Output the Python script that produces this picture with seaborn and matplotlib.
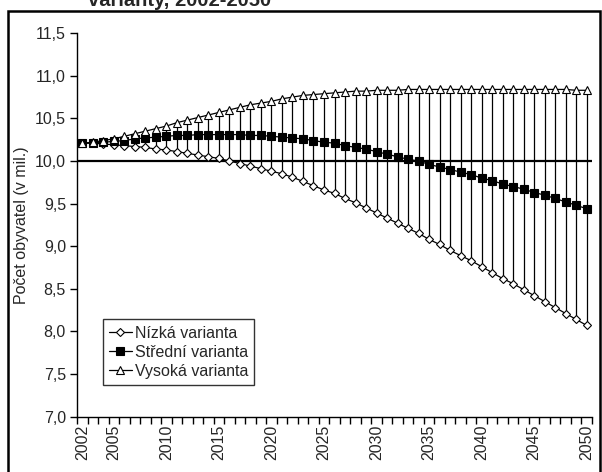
import matplotlib
matplotlib.use("Agg")
import matplotlib.pyplot as plt
import matplotlib.ticker as mticker
from matplotlib.patches import Rectangle
import pandas as pd
import seaborn as sns

# data (population in millions)
years = list(range(2002, 2051))
nizka = [10.21, 10.21, 10.20, 10.19, 10.18, 10.17, 10.16, 10.14, 10.13, 10.11,
         10.09, 10.07, 10.05, 10.03, 10.00, 9.97, 9.94, 9.91, 9.88, 9.85,
         9.81, 9.76, 9.71, 9.66, 9.62, 9.56, 9.51, 9.45, 9.39, 9.33,
         9.27, 9.21, 9.15, 9.08, 9.02, 8.95, 8.89, 8.83, 8.76, 8.69,
         8.62, 8.56, 8.49, 8.42, 8.35, 8.28, 8.21, 8.14, 8.07]
stredni = [10.21, 10.21, 10.22, 10.23, 10.24, 10.26, 10.27, 10.28, 10.29, 10.30,
           10.30, 10.31, 10.31, 10.31, 10.31, 10.31, 10.30, 10.30, 10.29, 10.28,
           10.27, 10.26, 10.24, 10.22, 10.21, 10.18, 10.16, 10.14, 10.11, 10.08,
           10.05, 10.02, 10.00, 9.96, 9.93, 9.90, 9.87, 9.84, 9.80, 9.77,
           9.73, 9.70, 9.67, 9.63, 9.60, 9.56, 9.52, 9.48, 9.44]
vysoka = [10.21, 10.22, 10.24, 10.26, 10.29, 10.32, 10.35, 10.38, 10.41, 10.45,
          10.48, 10.51, 10.54, 10.57, 10.60, 10.63, 10.66, 10.68, 10.70, 10.73,
          10.75, 10.77, 10.78, 10.79, 10.80, 10.81, 10.82, 10.82, 10.83, 10.83,
          10.83, 10.84, 10.84, 10.84, 10.84, 10.84, 10.84, 10.84, 10.84, 10.84,
          10.84, 10.84, 10.84, 10.84, 10.84, 10.84, 10.84, 10.83, 10.83]
labels = ["Nízká varianta", "Střední varianta", "Vysoká varianta"]
tick_years = [2002, 2005, 2010, 2015, 2020, 2025, 2030, 2035, 2040, 2045, 2050]

df = pd.DataFrame({"rok": years, labels[0]: nizka, labels[1]: stredni, labels[2]: vysoka})

sns.set_style("ticks")
plt.rcParams["font.family"] = ["Liberation Sans", "DejaVu Sans"]

fig = plt.figure(figsize=(6.02, 4.72), dpi=100)
ax = fig.add_axes([77 / 602, 1 - 416.6 / 472, 515 / 602, (416.6 - 33.2) / 472])

# high-low lines between the variants
ax.vlines(df["rok"], df[labels[0]], df[labels[2]], color="black", lw=0.9, zorder=1)
ax.axhline(10.0, color="black", lw=1.6, zorder=2)

styles = [
    dict(marker="D", markersize=4, markerfacecolor="white", markeredgecolor="black"),
    dict(marker="s", markersize=5.5, markerfacecolor="black", markeredgecolor="black"),
    dict(marker="^", markersize=6, markerfacecolor="white", markeredgecolor="black"),
]
for lab, st in zip(labels, styles):
    sns.lineplot(data=df, x="rok", y=lab, ax=ax, color="black", lw=0.9,
                 markeredgewidth=0.8, label=lab, zorder=3, **st)

ax.set_xlim(2001.5, 2050.5)
ax.set_ylim(7.0, 11.5)
ax.set_yticks([7.0 + 0.5 * i for i in range(10)])
ax.yaxis.set_major_formatter(mticker.FuncFormatter(lambda v, p: f"{v:.1f}".replace(".", ",")))
ax.set_xticks(tick_years)
ax.set_xticklabels([str(y) for y in tick_years], rotation=90)
ax.set_xticks([y - 0.5 for y in years] + [years[-1] + 0.5], minor=True)
ax.tick_params(axis="x", which="major", length=0, pad=6, labelsize=11.5)
ax.tick_params(axis="x", which="minor", length=5, width=1, color="black")
ax.tick_params(axis="y", length=5, width=1, color="black", labelsize=11.5, pad=3)
ax.set_xlabel("")
ax.set_ylabel("Počet obyvatel (v mil.)", fontsize=11.5, labelpad=4)

for s in ["top", "right"]:
    ax.spines[s].set_visible(False)
for s in ["left", "bottom"]:
    ax.spines[s].set_color("black")
    ax.spines[s].set_linewidth(1)

leg = ax.legend(loc="lower left", bbox_to_anchor=(0.05, 0.082), borderaxespad=0,
                fontsize=11.5, handlelength=1.4, handletextpad=0.2, labelspacing=0.25,
                fancybox=False, frameon=True, borderpad=0.4)
leg.get_frame().set_edgecolor("black")
leg.get_frame().set_linewidth(1)

# chart frame and clipped title
fig.patches.append(Rectangle((8 / 602, -0.05), 592 / 602, 1.05 - 11 / 472,
                             transform=fig.transFigure, fill=False,
                             edgecolor="black", lw=1.8))
fig.text(88 / 602, 1 - 6 / 472, "varianty, 2002-2050", fontsize=14.5,
         fontweight="bold", ha="left", va="baseline")

fig.savefig("out.png", dpi=100)
